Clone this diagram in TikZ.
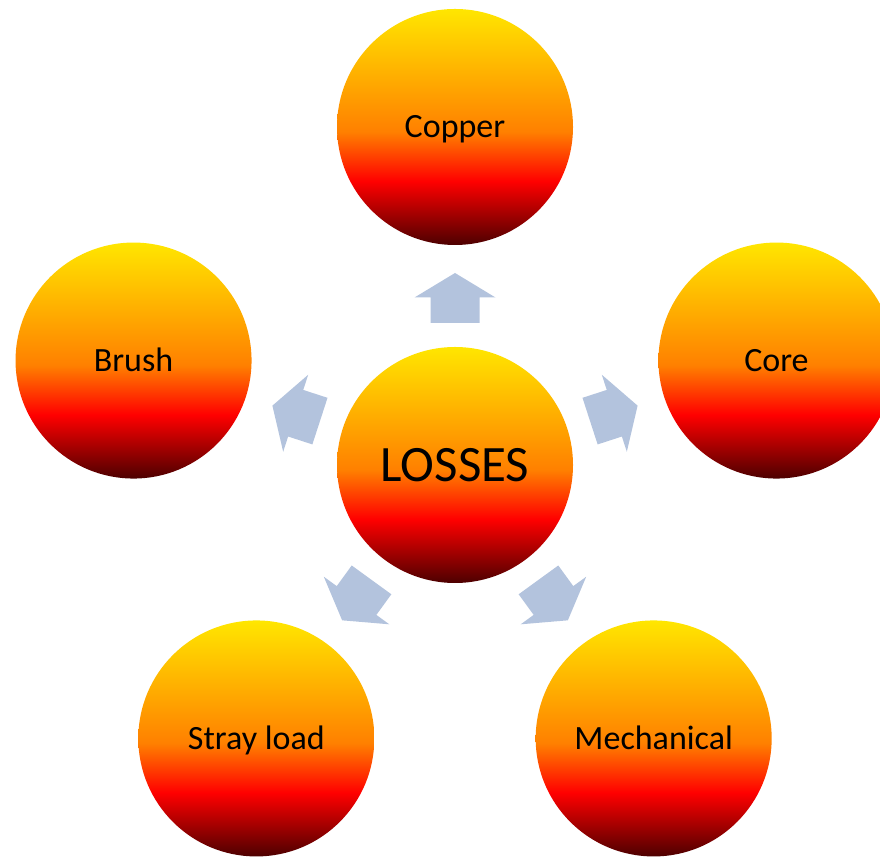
\documentclass[tikz,border=0pt]{standalone}
\usepackage{fontspec}
\setmainfont{Carlito}
\usetikzlibrary{calc}
\definecolor{hotyellow}{HTML}{FFE600}
\definecolor{hotorange}{HTML}{FF8000}
\definecolor{hotred}{HTML}{FF0000}
\definecolor{hotdark}{HTML}{4D0000}
\definecolor{arrowblue}{HTML}{B3C3DD}
\pgfdeclareverticalshading{hot}{100bp}{color(0bp)=(hotdark); color(25bp)=(hotdark); color(38.5bp)=(hotred); color(49bp)=(hotorange); color(75bp)=(hotyellow); color(100bp)=(hotyellow)}
\tikzset{
  ball/.style={circle, minimum size=236pt, inner sep=0pt, shading=hot, font=\fontsize{34}{40}\selectfont, text=black, text height=21.9pt, text depth=0pt},
  bigball/.style={ball, font=\fontsize{51}{60}\selectfont, text height=32.8pt},
  blockarrow/.style={fill=arrowblue, draw=none}
}
\newcommand{\blockarr}[1]{%
  \begin{scope}[shift={(losses.center)}, rotate=#1]
    \fill[blockarrow] (142,-24.5) -- (167.5,-24.5) -- (167.5,-40.5) -- (192,0) -- (167.5,40.5) -- (167.5,24.5) -- (142,24.5) -- cycle;
  \end{scope}}
\begin{document}
\begin{tikzpicture}[x=1pt,y=1pt]
  \useasboundingbox (0,0) rectangle (880,856);
  \clip (0,0) rectangle (880,856);
  \node[bigball] (losses) at (455,391) {LOSSES};
  \node[ball] (copper) at ($(losses.center)+(90:338)$) {Copper};
  \node[ball] (brush) at ($(losses.center)+(162:338)$) {Brush};
  \node[ball] (core) at ($(losses.center)+(18:338)$) {Core};
  \node[ball] (stray) at ($(losses.center)+(234:338)$) {Stray load};
  \node[ball] (mech) at ($(losses.center)+(306:338)$) {Mechanical};
  \blockarr{90}
  \blockarr{162}
  \blockarr{18}
  \blockarr{234}
  \blockarr{306}
\end{tikzpicture}
\end{document}
